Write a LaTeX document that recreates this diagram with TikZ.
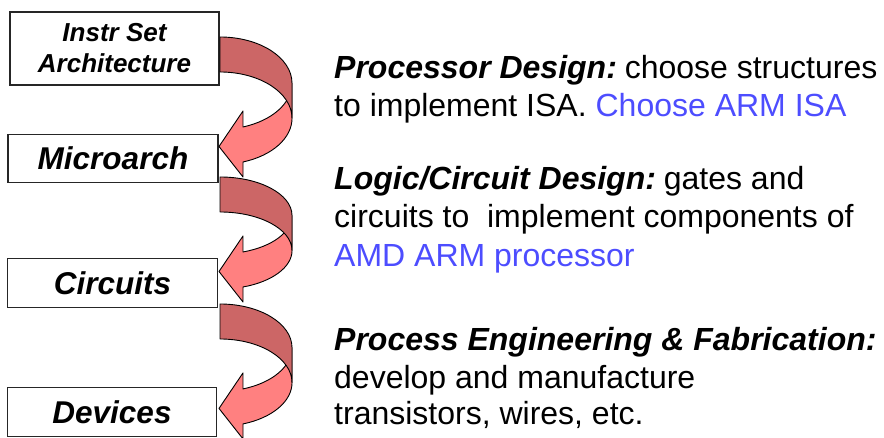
\documentclass[tikz,border=0pt]{standalone}
\usepackage{fontspec}
\setmainfont{Liberation Sans}
\definecolor{arrlight}{RGB}{255,128,128}
\definecolor{arrdark}{RGB}{204,102,102}
\definecolor{hiblue}{RGB}{77,77,255}
\newcommand\mybentarrow[2]{%
  \pgfmathsetmacro\arrYA{438-#1-#2}%
  \pgfmathsetmacro\arrYB{\arrYA-35}%
  \pgfmathsetmacro\arrHD{0.948*#2}%
  \pgfmathsetmacro\arrST{\arrYA-\arrHD}%
  \pgfmathsetmacro\arrSB{\arrYB-\arrHD}%
  \fill[arrlight, arrline] (292,\arrYA) arc[start angle=0, end angle=-71.4, x radius=72, y radius=#2]
     -- (243,\arrST+16) -- (219,\arrST-19.5) -- (243,\arrSB-15) -- (243,\arrSB)
     arc[start angle=-71.4, end angle=0, x radius=72, y radius=#2] -- cycle;
  \fill[arrdark, arrline] (220,\arrYA+#2) arc[start angle=90, end angle=0, x radius=72, y radius=#2]
     -- (292,\arrYB) arc[start angle=0, end angle=90, x radius=72, y radius=#2] -- cycle;
}
\newcommand\hdr[1]{{\bfseries\itshape #1}}
\begin{document}
\begin{tikzpicture}[x=1pt,y=1pt,
  arrline/.style={draw=black, line width=0.9pt, line join=round},
  box/.style={draw=black!85, line width=1.2pt, fill=white, inner sep=0pt, align=center,
    font=\fontsize{31.5}{37.8}\selectfont\bfseries\itshape},
  txt/.style={anchor=base west, inner sep=0pt, font=\fontsize{32}{38}\selectfont}]
\useasboundingbox (0,0) rectangle (884,438);
\fill[white] (0,0) rectangle (884,438);
% boxes
\node[box, minimum width=209pt, minimum height=73pt,
  font=\fontsize{26}{31}\selectfont\bfseries\itshape] (isa) at (114.5,389.5) {Instr Set\\Architecture};
\node[box, minimum width=210pt, minimum height=48pt] (uarch) at (113,279.5) {Microarch};
\node[box, minimum width=210pt, minimum height=49pt] (circ) at (112.5,155.2) {Circuits};
\node[box, minimum width=209pt, minimum height=49pt] (dev) at (112,25.8) {Devices};
% curved arrows
\mybentarrow{37}{46.2}
\mybentarrow{177}{38.5}
\mybentarrow{304}{43.6}
% text
\node[txt] (t1) at (334,359) {\hdr{Processor Design:}\kern-4pt{} choose structures};
\node[txt] (t2) at (334,321.5) {to implement ISA. \textcolor{hiblue}{Choose ARM ISA}};
\node[txt] (t3) at (334,248) {\hdr{Logic/Circuit Design:}\kern-4pt{} gates and};
\node[txt] (t4) at (334,210) {circuits to\ \ implement components of};
\node[txt] (t5) at (334,171.5) {\textcolor{hiblue}{AMD ARM processor}};
\node[txt] (t6) at (334,87.3) {\hdr{Process Engineering \& Fabrication:}};
\node[txt] (t7) at (334,49.7) {develop and manufacture};
\node[txt] (t8) at (334,13) {transistors, wires, etc.};
\end{tikzpicture}
\end{document}
